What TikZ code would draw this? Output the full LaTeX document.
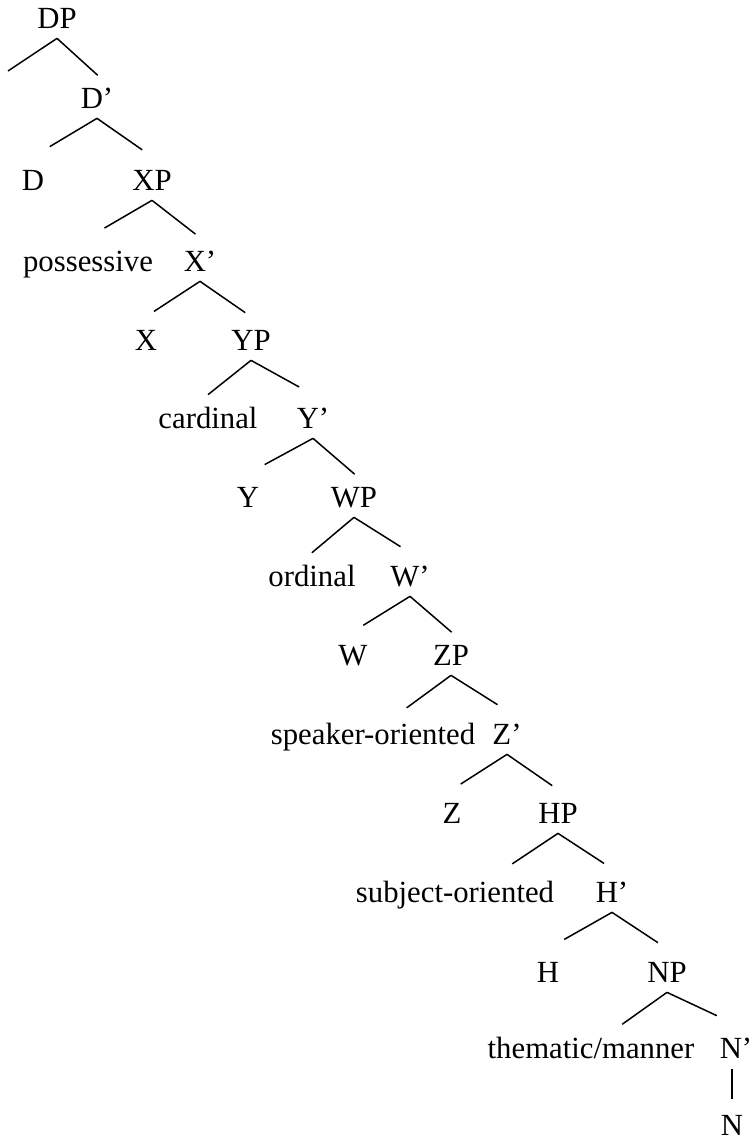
\documentclass[tikz,border=0pt]{standalone}
\usepackage{fontspec}
\setmainfont{Liberation Serif}
\usetikzlibrary{calc}

\tikzset{
  cat/.style={anchor=base, inner sep=0pt, font=\fontsize{17.5}{21}\selectfont, text height=6.6mm, text depth=2mm},
  branch/.style={line width=0.3mm},
}
% one arm of a branching wedge, 11mm long, aimed at the daughter
\newcommand{\arm}[2]{\draw[branch] (#1.south) -- ($(#1.south)!11mm!(#2)$);}

\begin{document}
\begin{tikzpicture}[x=0.2mm, y=-0.2mm]
    \useasboundingbox (0,0) rectangle (755,1140);

    % Determiner layer
    \node[cat] (dp) at (57, 28) {DP};
    \coordinate (dpfree) at (8, 71);
    \node[cat] (dbar) at (97, 108) {D'};
    \node[cat] (dhd) at (33, 190) {D};
    \node[cat] (xp) at (152, 190) {XP};

    % Possessive and cardinal layers
    \node[cat] (poss) at (88, 271) {possessive};
    \node[cat] (xbar) at (200, 271) {X'};
    \node[cat] (xhd) at (146, 350) {X};
    \node[cat] (yp) at (251, 350) {YP};
    \node[cat] (card) at (208, 428) {cardinal};
    \node[cat] (ybar) at (313, 428) {Y'};
    \node[cat] (yhd) at (248, 507) {Y};
    \node[cat] (wp) at (354, 507) {WP};

    % Ordinal and adjective layers
    \node[cat] (ord) at (312, 586) {ordinal};
    \node[cat] (wbar) at (410, 586) {W'};
    \node[cat] (whd) at (353, 665) {W};
    \node[cat] (zp) at (451, 665) {ZP};
    \node[cat] (spk) at (373, 744) {speaker-oriented};
    \node[cat] (zbar) at (507, 744) {Z'};
    \node[cat] (zhd) at (452, 823) {Z};
    \node[cat] (hp) at (558, 823) {HP};
    \node[cat] (subj) at (455, 902) {subject-oriented};
    \node[cat] (hbar) at (612, 902) {H'};
    \node[cat] (hhd) at (548, 982) {H};
    \node[cat] (np) at (667, 982) {NP};

    % Noun layer
    \node[cat] (them) at (591, 1058) {thematic/manner};
    \node[cat] (nbar) at (736, 1058) {N'};
    \node[cat] (nhd) at (732, 1135) {N};

    % Branches
    \draw[branch] (dp.south) -- (dpfree);
    \arm{dp}{dbar.north}
    \arm{dbar}{dhd.north}   \arm{dbar}{xp.north}
    \arm{xp}{poss.north}    \arm{xp}{xbar.north}
    \arm{xbar}{xhd.north}   \arm{xbar}{yp.north}
    \arm{yp}{card.north}    \arm{yp}{ybar.north}
    \arm{ybar}{yhd.north}   \arm{ybar}{wp.north}
    \arm{wp}{ord.north}     \arm{wp}{wbar.north}
    \arm{wbar}{whd.north}   \arm{wbar}{zp.north}
    \arm{zp}{spk.center}    \arm{zp}{zbar.north}
    \arm{zbar}{zhd.north}   \arm{zbar}{hp.north}
    \arm{hp}{subj.base}     \arm{hp}{hbar.north}
    \arm{hbar}{hhd.north}   \arm{hbar}{np.north}
    \arm{np}{them.center}   \arm{np}{nbar.north}
    \draw[branch, shorten <=0.2mm, shorten >=0.6mm] (nhd.north |- nbar.south) -- (nhd.north);
\end{tikzpicture}
\end{document}
